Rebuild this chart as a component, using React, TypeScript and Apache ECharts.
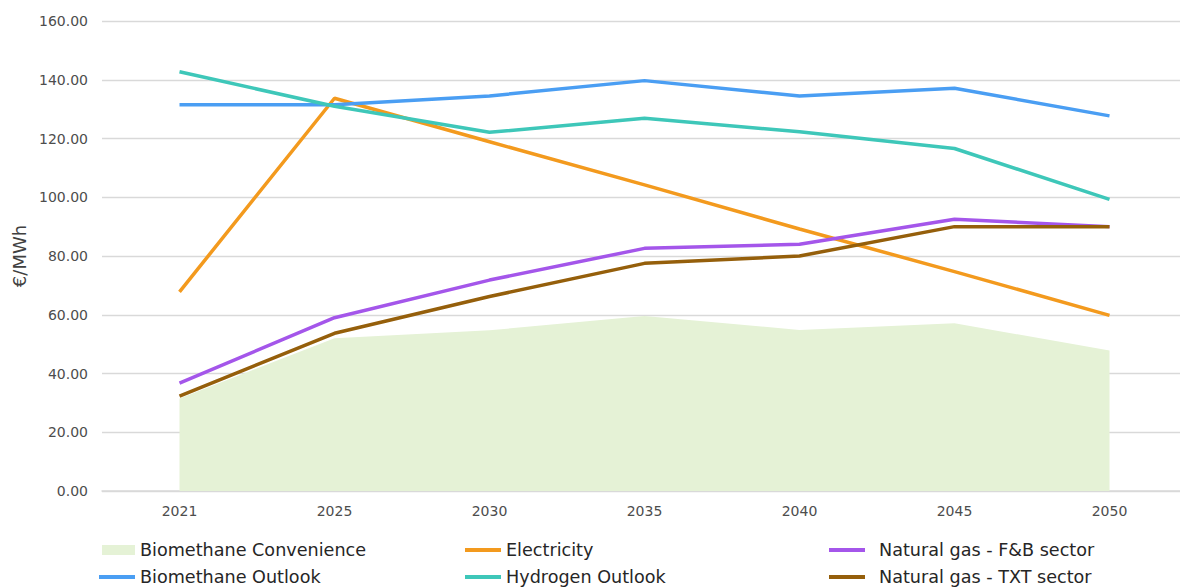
import React, { useEffect, useRef } from "react";
import * as echarts from "echarts";

// Price outlook per energy carrier, €/MWh
const years = ["2021", "2025", "2030", "2035", "2040", "2045", "2050"];
const biomethaneConvenience = [31.5, 52.0, 54.7, 59.6, 54.8, 57.1, 47.8];
const electricity = [67.8, 133.7, 118.9, 104.2, 89.2, 74.7, 59.8];
const naturalGasFB = [36.7, 59.0, 71.8, 82.6, 84.0, 92.5, 90.0];
const biomethaneOutlook = [131.5, 131.5, 134.5, 139.7, 134.5, 137.1, 127.7];
const hydrogenOutlook = [142.7, 131.0, 122.1, 126.9, 122.3, 116.6, 99.3];
const naturalGasTXT = [32.3, 53.7, 66.2, 77.5, 80.0, 90.0, 90.0];
const yTicks = { min: 0, max: 160, interval: 20 };

const FONT = "DejaVu Sans";
const colors = {
  convenience: "#e5f2d6",
  electricity: "#f39a1e",
  fb: "#a456ea",
  bioOutlook: "#4a9ef3",
  hydrogen: "#3ec7b9",
  txt: "#955f0b",
};

function lineSeries(name: string, data: number[], color: string) {
  return {
    name,
    type: "line",
    data,
    symbol: "none",
    lineStyle: { color, width: 3.5 },
    itemStyle: { color },
    z: 3,
  };
}

function legendItem(name: string, left: number, top: number, opts: any = {}) {
  return {
    data: [name],
    left,
    top,
    padding: 0,
    icon: "rect",
    itemWidth: opts.itemWidth ?? 36,
    itemHeight: opts.itemHeight ?? 4,
    selectedMode: false,
    textStyle: {
      fontFamily: FONT,
      fontSize: 17.6,
      color: "#262626",
      lineHeight: 20,
      padding: opts.padding ?? 0,
    },
  };
}

export default function App() {
  const ref = useRef<HTMLDivElement>(null);

  useEffect(() => {
    document.body.style.margin = "0";
    if (!ref.current) return;
    const chart = echarts.init(ref.current, undefined, { renderer: "svg" });
    chart.setOption({
      animation: false,
      backgroundColor: "#ffffff",
      grid: { left: 102, top: 21, width: 1085, bottom: 96, containLabel: false },
      legend: [
        legendItem("Biomethane Convenience", 102, 540, { itemWidth: 33, itemHeight: 10 }),
        legendItem("Electricity", 465, 540),
        legendItem("Natural gas - F&B sector", 829, 540, { padding: [0, 0, 0, 9] }),
        legendItem("Biomethane Outlook", 99, 567),
        legendItem("Hydrogen Outlook", 465, 567),
        legendItem("Natural gas - TXT sector", 829, 567, { padding: [0, 0, 0, 9] }),
      ],
      xAxis: {
        type: "category",
        data: years,
        boundaryGap: true,
        axisLine: { lineStyle: { color: "#d9d9d9", width: 1.5 } },
        axisTick: { show: false },
        axisLabel: { fontFamily: FONT, fontSize: 14, color: "#4d4d4d", margin: 13 },
      },
      yAxis: {
        type: "value",
        min: yTicks.min,
        max: yTicks.max,
        interval: yTicks.interval,
        name: "€/MWh",
        nameLocation: "middle",
        nameGap: 70,
        nameTextStyle: { fontFamily: FONT, fontSize: 18, color: "#404040" },
        axisLine: { show: false },
        axisTick: { show: false },
        splitLine: { lineStyle: { color: "#d9d9d9", width: 1.3 } },
        axisLabel: {
          fontFamily: FONT,
          fontSize: 14,
          color: "#4d4d4d",
          margin: 14,
          formatter: (v: number) => v.toFixed(2),
        },
      },
      series: [
        {
          name: "Biomethane Convenience",
          type: "line",
          data: biomethaneConvenience,
          symbol: "none",
          lineStyle: { width: 0 },
          itemStyle: { color: colors.convenience },
          areaStyle: { color: colors.convenience, opacity: 1 },
          z: 1,
        },
        lineSeries("Electricity", electricity, colors.electricity),
        lineSeries("Natural gas - F&B sector", naturalGasFB, colors.fb),
        lineSeries("Biomethane Outlook", biomethaneOutlook, colors.bioOutlook),
        lineSeries("Hydrogen Outlook", hydrogenOutlook, colors.hydrogen),
        lineSeries("Natural gas - TXT sector", naturalGasTXT, colors.txt),
      ],
    });
    return () => chart.dispose();
  }, []);

  // The plot runs past the right edge, so the chart is wider than its clipping frame
  return (
    <div style={{ width: 1180, height: 587, overflow: "hidden" }}>
      <div ref={ref} style={{ width: 1192, height: 587 }} />
    </div>
  );
}
